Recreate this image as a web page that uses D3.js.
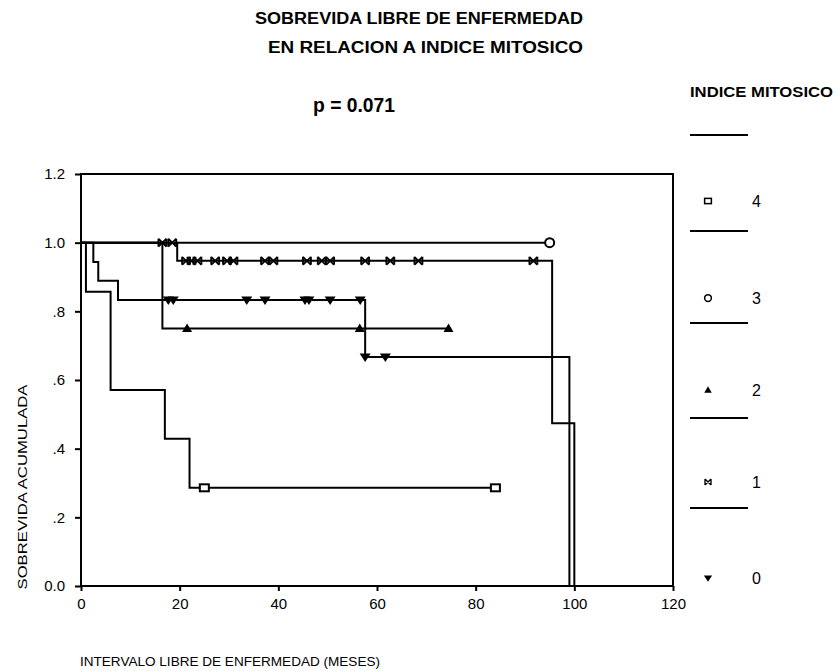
<!DOCTYPE html>
<html>
<head>
<meta charset="utf-8">
<script src="https://cdn.jsdelivr.net/npm/d3@7"></script>
<style>
  body { margin: 0; background: #fff; }
  text { font-family: "Liberation Sans", Arial, sans-serif; fill: #000; }
</style>
</head>
<body>
<div id="chart"></div>
<script>
// =====================================
// DATA
// =====================================

const groupNames = ["4", "3", "2", "1", "0"];

// event times (months) and survival just after each event
const group4Events = [1, 6, 17, 22];
const group4Surv = [0.857, 0.571, 0.429, 0.286];
const group4Censored = [25, 84];

const group3Events = [];
const group3Surv = [];
const group3Censored = [95];

const group2Events = [16.5];
const group2Surv = [0.75];
const group2Censored = [21.5, 56.5, 74.5];

const group1Events = [19.5, 95.5, 100];
const group1Surv = [0.947, 0.474, 0];
const group1Censored = [16.5, 18.5, 21.3, 22.4, 23.6, 27.2, 29.6, 30.9, 37.3, 39, 45.8, 48.8, 50.5, 57.6, 62.7, 68.4, 91.7];

const group0Events = [2.5, 3.5, 7.5, 57.6, 99];
const group0Surv = [0.944, 0.889, 0.833, 0.667, 0];
const group0Censored = [17.7, 18.7, 33.6, 37.3, 45.4, 46.2, 50.5, 56.6, 57.6, 61.7];

const xTicks = [0, 20, 40, 60, 80, 100, 120];
const yTicks = [0, 0.2, 0.4, 0.6, 0.8, 1.0, 1.2];
const yTickLabels = ["0.0", ".2", ".4", ".6", ".8", "1.0", "1.2"];

const groups = [
  { name: groupNames[0], events: group4Events, surv: group4Surv, censored: group4Censored, symbol: "square" },
  { name: groupNames[1], events: group3Events, surv: group3Surv, censored: group3Censored, symbol: "circle" },
  { name: groupNames[2], events: group2Events, surv: group2Surv, censored: group2Censored, symbol: "triangle" },
  { name: groupNames[3], events: group1Events, surv: group1Surv, censored: group1Censored, symbol: "cross" },
  { name: groupNames[4], events: group0Events, surv: group0Surv, censored: group0Censored, symbol: "down" }
];

// =====================================
// DIMENSIONS
// =====================================

const W = 836, H = 671;
const margin = { top: 174, right: 163, bottom: 85, left: 81 };
const width = W - margin.left - margin.right;
const height = H - margin.top - margin.bottom;

const svg = d3.select("#chart")
  .append("svg")
  .attr("width", W)
  .attr("height", H);

const g = svg.append("g")
  .attr("transform", `translate(${margin.left},${margin.top})`);

// =====================================
// SCALES
// =====================================

const x = d3.scaleLinear().domain([0, 120]).range([0, width]);
const y = d3.scaleLinear().domain([0, 1.2]).range([height, 0]);

// =====================================
// TITLES
// =====================================

svg.append("text")
  .attr("x", 255).attr("y", 24)
  .attr("textLength", 328).attr("lengthAdjust", "spacingAndGlyphs")
  .style("font-size", "16px").style("font-weight", "bold")
  .text("SOBREVIDA LIBRE DE ENFERMEDAD");

svg.append("text")
  .attr("x", 268).attr("y", 53)
  .attr("textLength", 315).attr("lengthAdjust", "spacingAndGlyphs")
  .style("font-size", "16px").style("font-weight", "bold")
  .text("EN RELACION A INDICE MITOSICO");

svg.append("text")
  .attr("x", 313).attr("y", 112)
  .attr("textLength", 82).attr("lengthAdjust", "spacingAndGlyphs")
  .style("font-size", "21px").style("font-weight", "bold")
  .text("p = 0.071");

// =====================================
// FRAME + AXES
// =====================================

g.append("rect")
  .attr("width", width).attr("height", height)
  .attr("fill", "none").attr("stroke", "#000").attr("stroke-width", 2);

const yAxis = g.append("g")
  .call(d3.axisLeft(y).tickValues(yTicks).tickSize(6)
    .tickFormat((d, i) => yTickLabels[i]));
yAxis.select(".domain").remove();
yAxis.selectAll("line").attr("stroke-width", 2);
yAxis.selectAll("text")
  .style("font-size", "15px").style("font-family", "Liberation Sans, Arial, sans-serif")
  .attr("x", -16);

const xAxis = g.append("g")
  .attr("transform", `translate(0,${height})`)
  .call(d3.axisBottom(x).tickValues(xTicks).tickSize(5));
xAxis.select(".domain").remove();
xAxis.selectAll("line").attr("stroke-width", 2);
xAxis.selectAll("text")
  .style("font-size", "15px").style("font-family", "Liberation Sans, Arial, sans-serif")
  .attr("y", 12);

svg.append("text")
  .attr("transform", "translate(27,487) rotate(-90)")
  .attr("text-anchor", "middle")
  .attr("textLength", 205).attr("lengthAdjust", "spacingAndGlyphs")
  .style("font-size", "13px")
  .text("SOBREVIDA ACUMULADA");

svg.append("text")
  .attr("x", 80).attr("y", 666)
  .attr("textLength", 300).attr("lengthAdjust", "spacingAndGlyphs")
  .style("font-size", "13px")
  .text("INTERVALO LIBRE DE ENFERMEDAD (MESES)");

// =====================================
// CURVES
// =====================================

function stepPoints(gr) {
  const pts = [[0, 1]];
  let s = 1;
  gr.events.forEach((t, i) => {
    pts.push([t, s]);
    s = gr.surv[i];
    pts.push([t, s]);
  });
  const last = d3.max([...gr.events, ...gr.censored]);
  if (s > 0) pts.push([last, s]);
  return pts;
}

function survAt(gr, t) {
  let s = 1;
  gr.events.forEach((e, i) => { if (e <= t) s = gr.surv[i]; });
  return s;
}

const line = d3.line().x(d => x(d[0])).y(d => y(d[1]));

groups.forEach(gr => {
  g.append("path")
    .attr("d", line(stepPoints(gr)))
    .attr("fill", "none")
    .attr("stroke", "#000")
    .attr("stroke-width", 2);
});

// =====================================
// MARKERS
// =====================================

function drawMarker(sel, symbol) {
  if (symbol === "square") {
    sel.append("rect").attr("x", -4.5).attr("y", -3.5).attr("width", 9).attr("height", 7)
      .attr("fill", "#fff").attr("stroke", "#000").attr("stroke-width", 2);
  } else if (symbol === "circle") {
    sel.append("circle").attr("r", 4.5)
      .attr("fill", "#fff").attr("stroke", "#000").attr("stroke-width", 2);
  } else if (symbol === "triangle") {
    sel.append("path").attr("d", "M0,-5L5,3.5L-5,3.5Z").attr("fill", "#000");
  } else if (symbol === "down") {
    sel.append("path").attr("d", "M-5.5,-3.5L5.5,-3.5L0,5Z").attr("fill", "#000");
  } else if (symbol === "cross") {
    sel.append("path").attr("d", "M-4,-4L4,4M-4,4L4,-4M-4,-4V4M4,-4V4")
      .attr("fill", "none").attr("stroke", "#000").attr("stroke-width", 1.8);
  }
}

groups.forEach(gr => {
  gr.censored.forEach(t => {
    const m = g.append("g")
      .attr("transform", `translate(${x(t)},${y(survAt(gr, t))})`);
    drawMarker(m, gr.symbol);
  });
});

// =====================================
// LEGEND
// =====================================

const legend = svg.append("g").attr("transform", "translate(690,0)");

legend.append("text")
  .attr("x", 0).attr("y", 97)
  .style("font-size", "14px").style("font-weight", "bold")
  .attr("textLength", 143).attr("lengthAdjust", "spacingAndGlyphs")
  .text("INDICE MITOSICO");

const legendLineY = [135, 231, 323, 418, 508];
const legendItemY = [201, 298, 390, 482, 578];

legend.selectAll(".lg-line")
  .data(legendLineY)
  .enter()
  .append("line")
  .attr("x1", 0).attr("x2", 58)
  .attr("y1", d => d).attr("y2", d => d)
  .attr("stroke", "#000").attr("stroke-width", 2);

groups.forEach((gr, i) => {
  const m = legend.append("g")
    .attr("transform", `translate(18,${legendItemY[i]}) scale(0.75)`);
  drawMarker(m, gr.symbol);
  legend.append("text")
    .attr("x", 62).attr("y", legendItemY[i] + 6)
    .style("font-size", "16px")
    .text(gr.name);
});
</script>
</body>
</html>
